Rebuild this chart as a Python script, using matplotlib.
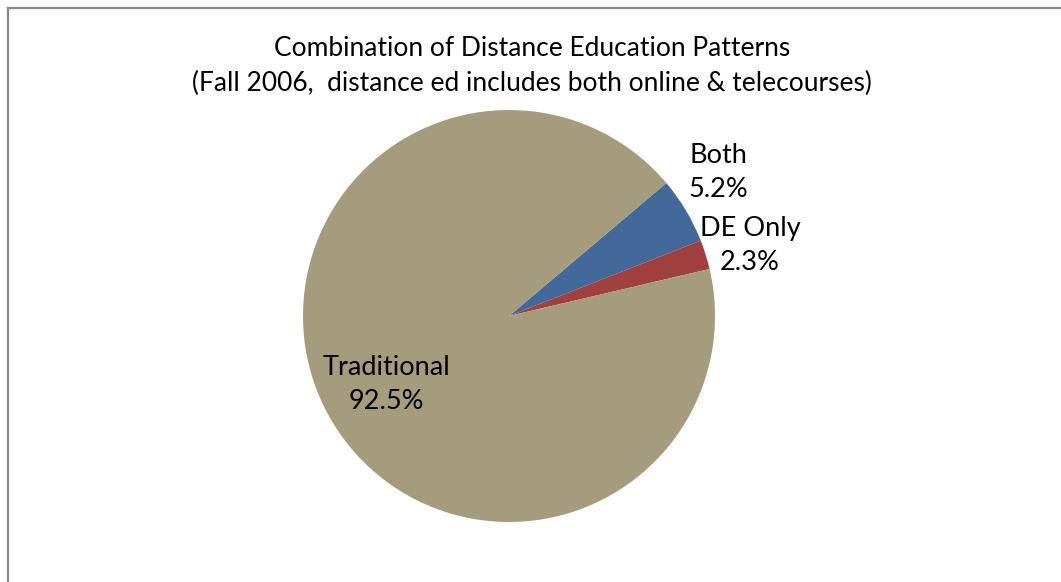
import matplotlib.pyplot as plt
import numpy as np

# enrollment pattern shares, Fall 2006
categories = ['Both', 'DE Only', 'Traditional']
shares = [5.2, 2.3, 92.5]
colors = ['#43699A', '#A0413F', '#A49C7C']

title = ('Combination of Distance Education Patterns\n'
         '(Fall 2006,  distance ed includes both online & telecourses)')

plt.rcParams['font.family'] = ['Lato', 'DejaVu Sans']

W, H = 1061, 582
fig = plt.figure(figsize=(W / 100, H / 100), dpi=100)
ax = fig.add_axes([0, 0, 1, 1])

cx, cy, r = 509, H - 316, 206
wedges, _ = ax.pie(shares, colors=colors, startangle=40.2, counterclock=False,
                   center=(cx, cy), radius=r,
                   wedgeprops=dict(linewidth=0))

# label placement per slice: (radius factor, angle shift in degrees)
label_pos = [(1.23, 3.6), (1.22, -1.0), (0.68, 2.5)]
for w, name, val, (rf, dtheta) in zip(wedges, categories, shares, label_pos):
    mid = np.deg2rad((w.theta1 + w.theta2) / 2 + dtheta)
    x = cx + rf * r * np.cos(mid)
    y = cy + rf * r * np.sin(mid)
    ax.text(x, y, f'{name}\n{val:.1f}%', ha='center', va='center',
            fontsize=19.5, linespacing=1.46, color='black')

ax.set_xlim(0, W)
ax.set_ylim(0, H)
ax.set_aspect('auto')
ax.axis('off')

fig.text(532 / W, 1 - 66 / H, title, ha='center', va='center',
         fontsize=19, linespacing=1.48)

# chart area frame (only top and left edges fall inside the image)
fig.add_artist(plt.Line2D([8 / W, 8 / W], [0, 1 - 7.5 / H],
                          color='#888888', lw=1.6, transform=fig.transFigure))
fig.add_artist(plt.Line2D([8 / W, 1], [1 - 7.5 / H, 1 - 7.5 / H],
                          color='#888888', lw=1.6, transform=fig.transFigure))

fig.savefig('out.png', dpi=100)
